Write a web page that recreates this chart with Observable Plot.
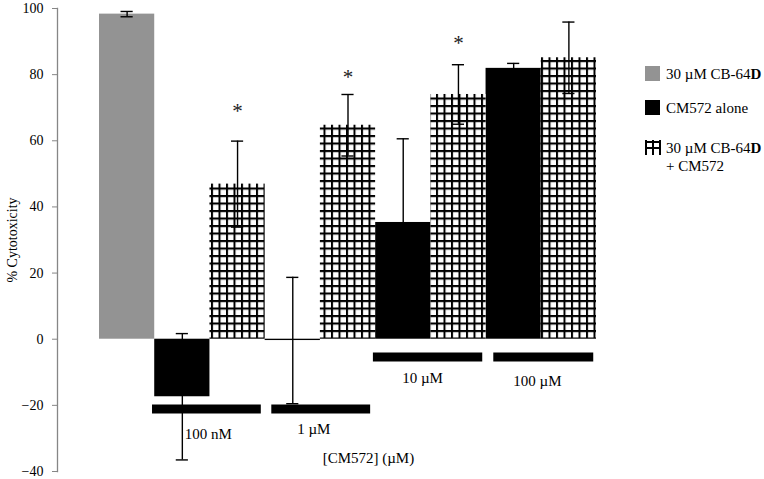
<!DOCTYPE html>
<html>
<head>
<meta charset="utf-8">
<script src="https://cdn.jsdelivr.net/npm/d3@7"></script>
<script src="https://cdn.jsdelivr.net/npm/@observablehq/plot@0.6"></script>
<style>
  html, body { margin: 0; padding: 0; background: #fff; }
  #wrap { position: relative; width: 764px; height: 479px; font-family: "Liberation Serif", "Times New Roman", serif; }
  .leg { position: absolute; font-size: 15px; line-height: 18px; color: #000; white-space: nowrap; }
  .sw { position: absolute; width: 15px; height: 15px; }
</style>
</head>
<body>
<div id="wrap"></div>
<script>
// ---- data ----
const barNames  = ["CB-64D", "100 nM", "100 nM + CB-64D", "1 µM", "1 µM + CB-64D", "10 µM", "10 µM + CB-64D", "100 µM", "100 µM + CB-64D"];
const barSeries = ["cb", "cm", "combo", "cm", "combo", "cm", "combo", "cm", "combo"];
const barValues = [98.3, -17.4, 46.9, -0.4, 64.7, 35.3, 74.0, 81.9, 85.1];
const barErrors = [0.8, 19.1, 13.0, 19.1, 9.3, 25.3, 9.0, 1.5, 10.8];
const starBars   = [2, 4, 6];
const starValues = [70.0, 80.3, 90.6];
const concLabels = ["100 nM", "1 µM", "10 µM", "100 µM"];
const concX1     = [0.96, 3.12, 4.96, 7.14];
const concX2     = [2.93, 4.91, 6.94, 8.95];
const concY      = [-21.1, -21.1, -5.4, -5.4];
const concLabelX = [1.97, 3.88, 5.85, 7.93];
const concLabelY = [-28.6, -27.3, -11.9, -12.7];
const yTicks = [-40, -20, 0, 20, 40, 60, 80, 100];
const xTitle = "[CM572] (µM)";
const xTitlePos = [4.87, -36.1];
const yTitle = "% Cytotoxicity";

const GRAY = "#939393";
const bars = barValues.map((v, i) => ({i, name: barNames[i], series: barSeries[i], value: v, err: barErrors[i]}));
const stars = starBars.map((b, k) => ({i: b, y: starValues[k]}));
const conc = concLabels.map((l, k) => ({label: l, x1: concX1[k], x2: concX2[k], y: concY[k], lx: concLabelX[k], ly: concLabelY[k]}));

const capHalf = 0.11;
const font = "Liberation Serif, Times New Roman, serif";
const ERR = "#000";

const svg = Plot.plot({
  width: 764,
  height: 479,
  marginLeft: 57,
  marginRight: 168,
  marginTop: 8,
  marginBottom: 8,
  style: {fontFamily: font, fontSize: "15px", background: "white", color: "#000", overflow: "visible"},
  x: {type: "linear", domain: [0, 9], insetLeft: 42, axis: null},
  y: {domain: [-40, 100]},
  marks: [
    Plot.frame({anchor: "left", stroke: "#868686", strokeWidth: 1.3}),
    Plot.axisY({ticks: yTicks, tickSize: 5, tickPadding: 9, stroke: "#868686", fontSize: 14,
      label: yTitle, labelAnchor: "center", labelOffset: 50, labelArrow: "none"}),
    Plot.rect(bars.filter(d => d.series === "cb"), {x1: d => d.i, x2: d => d.i + 1, y1: 0, y2: "value", fill: GRAY}),
    Plot.rect(bars.filter(d => d.series === "cm"), {x1: d => d.i, x2: d => d.i + 1, y1: 0, y2: "value", fill: "#000"}),
    Plot.rect(bars.filter(d => d.series === "combo"), {x1: d => d.i, x2: d => d.i + 1, y1: 0, y2: "value", fill: "url(#grid)"}),
    Plot.ruleX(bars, {x: d => d.i + 0.5, y1: d => d.value - d.err, y2: d => d.value + d.err, stroke: ERR, strokeWidth: 1.4}),
    Plot.ruleY(bars, {y: d => d.value + d.err, x1: d => d.i + 0.5 - capHalf, x2: d => d.i + 0.5 + capHalf, stroke: ERR, strokeWidth: 1.4}),
    Plot.ruleY(bars, {y: d => d.value - d.err, x1: d => d.i + 0.5 - capHalf, x2: d => d.i + 0.5 + capHalf, stroke: ERR, strokeWidth: 1.4}),
    Plot.text(stars, {x: d => d.i + 0.5, y: "y", text: () => "*", fontSize: 21, fill: "#222", dy: 4}),
    Plot.ruleY(conc, {y: "y", x1: "x1", x2: "x2", stroke: "#000", strokeWidth: 9}),
    Plot.text(conc, {x: "lx", y: "ly", text: "label", fontSize: 15}),
    Plot.text([xTitle], {x: xTitlePos[0], y: xTitlePos[1], text: d => d, fontSize: 15})
  ]
});

// hatch pattern
const defs = d3.select(svg).insert("defs", ":first-child");
const pat = defs.append("pattern").attr("id", "grid").attr("patternUnits", "userSpaceOnUse")
  .attr("width", 7.5).attr("height", 7.5).attr("x", 1).attr("y", 0);
pat.append("rect").attr("width", 7.5).attr("height", 7.5).attr("fill", "#fff");
pat.append("path").attr("d", "M1,0V7.5M0,1H7.5").attr("stroke", "#000").attr("stroke-width", 2);

const wrap = document.getElementById("wrap");
wrap.appendChild(svg);

// legend
const legendItems = [
  {label: "30 µM CB-64<b>D</b>", kind: "cb", top: 66},
  {label: "CM572 alone", kind: "cm", top: 100},
  {label: "30 µM CB-64<b>D</b><br>+ CM572", kind: "combo", top: 140}
];
for (const it of legendItems) {
  let sw;
  if (it.kind === "combo") {
    sw = document.createElementNS("http://www.w3.org/2000/svg", "svg");
    sw.setAttribute("width", 16); sw.setAttribute("height", 15);
    sw.setAttribute("style", "position:absolute;left:645px;top:" + it.top + "px");
    sw.innerHTML = '<path d="M1,0V15M8,0V15M15,0V15M0,2H16M0,8H16" stroke="#000" stroke-width="2" fill="none"/>';
  } else {
    sw = document.createElement("div");
    sw.className = "sw";
    sw.style.left = "645px"; sw.style.top = it.top + "px";
    sw.style.background = it.kind === "cb" ? GRAY : "#000";
  }
  wrap.appendChild(sw);
  const t = document.createElement("div");
  t.className = "leg";
  t.style.left = "666px"; t.style.top = (it.top - 1) + "px";
  t.innerHTML = it.label;
  wrap.appendChild(t);
}
</script>
</body>
</html>
